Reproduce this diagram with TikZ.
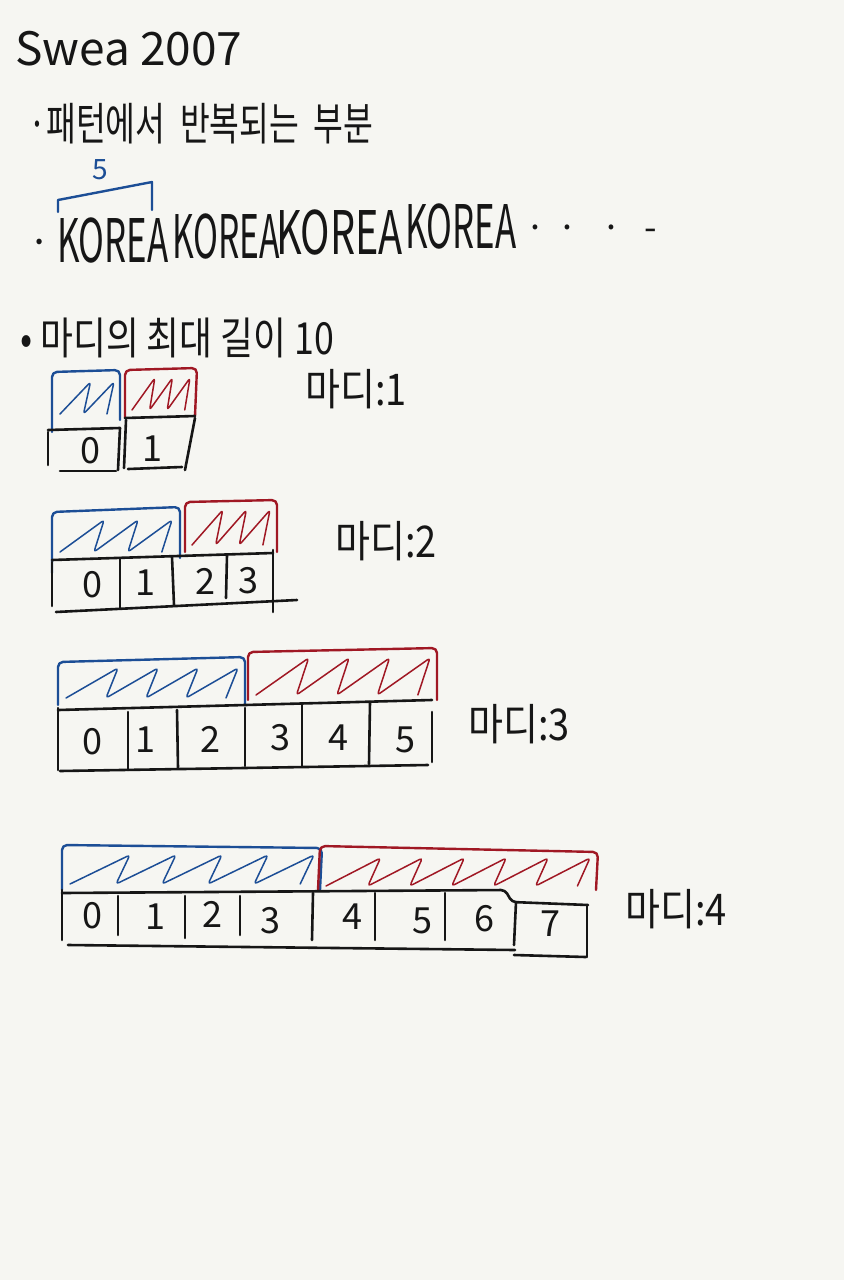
\documentclass[tikz,border=0pt]{standalone}
\usepackage{fontspec}
\usepackage{graphicx}
\newfontfamily\kr{Noto Sans CJK KR}
\definecolor{bg}{RGB}{246,246,242}
\definecolor{pblue}{RGB}{28,78,150}
\definecolor{pred}{RGB}{160,24,36}
\definecolor{ink}{RGB}{22,22,22}
\tikzset{
  pen/.style={draw=ink, line width=2.6pt, line cap=round, line join=round},
  bluepen/.style={draw=pblue, line width=2.4pt, line cap=round, line join=round, rounded corners=5pt},
  redpen/.style={draw=pred, line width=2.4pt, line cap=round, line join=round, rounded corners=5pt},
  bluehatch/.style={draw=pblue, line width=1.5pt, line cap=round, line join=round, rounded corners=3pt},
  redhatch/.style={draw=pred, line width=1.5pt, line cap=round, line join=round, rounded corners=3pt},
  hand/.style={text=ink, inner sep=0pt, anchor=base west},
  num/.style={font=\kr\fontsize{36}{36}\selectfont, text=ink, inner sep=0pt, anchor=base},
}
\newcommand\hatchzz[6]{%
  \pgfmathsetmacro\hzs{(#3-#2)/(#6+0.3)}%
  \draw[#1] (#2,#5) \foreach \hzi in {1,...,#6}{ -- ({#2+(\hzi-1)*\hzs+1.3*\hzs},#4) -- ({#2+\hzi*\hzs},#5) };%
}
\begin{document}
\begin{tikzpicture}[x=1pt,y=-1pt]
\fill[bg] (0,0) rectangle (844,1280);
\useasboundingbox (0,0) rectangle (844,1280);

% title and notes
\node[hand] (title) at (15,65) {\kr\fontsize{46}{46}\selectfont Swea 2007};
\node[hand] (pat) at (28,140) {\kr\fontsize{36}{36}\selectfont\scalebox{0.9}[1.25]{·패턴에서\ \ 반복되는\ \ 부분}};

% bracket with length
\draw[pblue, line width=2.4pt, line cap=round, line join=round] (58,212) -- (58,200) -- (152,182) -- (152,210);
\node[font=\kr\fontsize{28}{28}\selectfont, text=pblue, inner sep=0pt] (five) at (100,170) {5};

% KOREA line
\node[hand] (bul) at (28,256) {\kr\fontsize{40}{40}\selectfont ·};
\node[hand] (k1) at (57,262) {\kr\fontsize{60}{60}\selectfont\scalebox{0.58}[1]{KOREA}};
\node[hand] (k2) at (172,258) {\kr\fontsize{60}{60}\selectfont\scalebox{0.56}[1]{KOREA}};
\node[hand] (k3) at (276,254) {\kr\fontsize{60}{60}\selectfont\scalebox{0.66}[1]{KOREA}};
\node[hand] (k4) at (405,248) {\kr\fontsize{60}{60}\selectfont\scalebox{0.58}[1]{KOREA}};
\node[hand] (dots) at (525,240) {\kr\fontsize{36}{36}\selectfont ·\,\,·\ \ \ ·\ \ \,-};

% max length
\node[hand] (maxl) at (20,354) {\kr\fontsize{34}{34}\selectfont\scalebox{1.05}[1.3]{•\ 마디의\ 최대\ 길이\ 10}};

% labels
\node[hand] (l1) at (305,405) {\kr\fontsize{38}{38}\selectfont\scalebox{1}[1.15]{마디:1}};
\node[hand] (l2) at (335,557) {\kr\fontsize{38}{38}\selectfont\scalebox{1}[1.15]{마디:2}};
\node[hand] (l3) at (468,740) {\kr\fontsize{38}{38}\selectfont\scalebox{1}[1.15]{마디:3}};
\node[hand] (l4) at (625,925) {\kr\fontsize{38}{38}\selectfont\scalebox{1}[1.15]{마디:4}};

% ---------- row 1 ----------
\draw[bluepen] (52,432) -- (52,372) -- (120,370) -- (120,420);
\draw[redpen] (125,418) -- (125,370) -- (197,368) -- (195,416);
\hatchzz{bluehatch}{60}{114}{382}{414}{2}
\hatchzz{redhatch}{132}{190}{378}{410}{3}
\draw[pen] (48,430) -- (120,428);
\draw[pen] (125,418) -- (195,416);
\draw[pen] (48,432) -- (48,465);
\draw[pen] (120,428) -- (118,470);
\draw[pen] (126,420) -- (124,468);
\draw[pen] (195,418) -- (185,470);
\draw[pen] (60,471) -- (116,471);
\draw[pen] (128,469) -- (182,467);
\node[num] (r1n0) at (90,463) {0};
\node[num] (r1n1) at (152,461) {1};

% ---------- row 2 ----------
\draw[bluepen] (52,573) -- (52,512) -- (180,507) -- (180,558);
\draw[redpen] (185,552) -- (185,502) -- (277,500) -- (277,552);
\hatchzz{bluehatch}{60}{172}{520}{552}{3}
\hatchzz{redhatch}{192}{270}{510}{545}{3}
\draw[pen] (52,560) -- (273,553);
\draw[pen] (52,562) -- (52,606);
\draw[pen] (120,558) -- (120,608);
\draw[pen] (172,557) -- (174,605);
\draw[pen] (227,555) -- (226,598);
\draw[pen] (273,550) -- (273,612);
\draw[pen] (56,612) -- (297,600);
\node[num] (r2n0) at (92,597) {0};
\node[num] (r2n1) at (145,595) {1};
\node[num] (r2n2) at (205,594) {2};
\node[num] (r2n3) at (248,593) {3};

% ---------- row 3 ----------
\draw[bluepen] (58,705) -- (58,662) -- (245,657) -- (245,705);
\draw[redpen] (248,700) -- (248,652) -- (437,648) -- (437,700);
\hatchzz{bluehatch}{66}{238}{668}{698}{4}
\hatchzz{redhatch}{256}{430}{658}{695}{4}
\draw[pen] (58,710) -- (432,700);
\draw[pen] (58,708) -- (58,770);
\draw[pen] (128,712) -- (128,770);
\draw[pen] (177,710) -- (178,768);
\draw[pen] (245,708) -- (245,766);
\draw[pen] (302,704) -- (302,766);
\draw[pen] (370,702) -- (369,764);
\draw[pen] (432,712) -- (432,762);
\draw[pen] (60,771) -- (428,765);
\node[num] (r3n0) at (92,754) {0};
\node[num] (r3n1) at (145,752) {1};
\node[num] (r3n2) at (210,752) {2};
\node[num] (r3n3) at (280,750) {3};
\node[num] (r3n4) at (338,750) {4};
\node[num] (r3n5) at (405,752) {5};

% ---------- row 4 ----------
\draw[bluepen] (62,890) -- (62,845) -- (322,848) -- (320,890);
\draw[redpen] (318,890) -- (320,846) -- (598,852) -- (596,890);
\hatchzz{bluehatch}{70}{314}{855}{884}{5}
\hatchzz{redhatch}{326}{590}{858}{886}{6}
\draw[pen, rounded corners=4pt] (62,893) -- (505,890) -- (512,902) -- (588,905);
\draw[pen] (62,890) -- (62,940);
\draw[pen] (118,896) -- (118,935);
\draw[pen] (185,896) -- (185,938);
\draw[pen] (240,896) -- (240,935);
\draw[pen] (313,893) -- (312,940);
\draw[pen] (375,893) -- (375,940);
\draw[pen] (445,893) -- (445,940);
\draw[pen] (516,902) -- (514,945);
\draw[pen] (587,905) -- (587,957);
\draw[pen] (68,945) -- (515,950);
\draw[pen] (514,955) -- (586,957);
\node[num] (r4n0) at (92,928) {0};
\node[num] (r4n1) at (155,929) {1};
\node[num] (r4n2) at (212,927) {2};
\node[num] (r4n3) at (270,933) {3};
\node[num] (r4n4) at (352,929) {4};
\node[num] (r4n5) at (422,933) {5};
\node[num] (r4n6) at (484,931) {6};
\node[num] (r4n7) at (550,936) {7};
\end{tikzpicture}
\end{document}
